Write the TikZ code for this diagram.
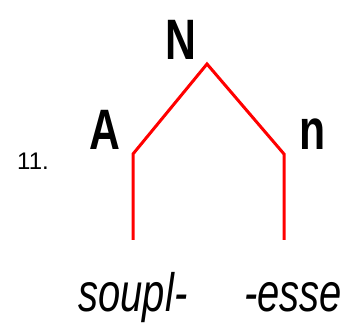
\documentclass[tikz,border=0pt]{standalone}
\usepackage{fontspec}
\setmainfont{Liberation Sans}
\newfontfamily\catfont[FakeStretch=0.75]{Liberation Sans}
\newfontfamily\morphfont[FakeStretch=0.74]{Liberation Sans}
\usepackage{tikz}

\tikzset{
  cat/.style={inner sep=0pt, anchor=base, font=\catfont\bfseries\fontsize{57}{57}\selectfont},
  morph/.style={inner sep=0pt, anchor=base, font=\morphfont\itshape\fontsize{54}{54}\selectfont},
  branch/.style={draw=red, line width=3pt}
}

\begin{document}
\begin{tikzpicture}[x=1pt,y=-1pt]
\useasboundingbox (0,0) rectangle (359,331);
\node (num) [inner sep=0pt, anchor=base west, font=\fontsize{24}{24}\selectfont] at (17,170) {11.};
\node (N) [cat] at (181,60) {N};
\node (A) [cat] at (104.5,150) {A};
\node (n) [cat] at (312.5,150) {n};
\node (soupl) [morph] at (133,312) {soupl-};
\node (esse) [morph] at (293,312) {-esse};
\coordinate (top) at (207,64);
\coordinate (Aknee) at (133,154);
\coordinate (nknee) at (284,154);
\coordinate (Afoot) at (133,240);
\coordinate (nfoot) at (284,240);
\draw [branch] (Afoot) -- (Aknee) -- (top) -- (nknee) -- (nfoot);
\end{tikzpicture}
\end{document}
